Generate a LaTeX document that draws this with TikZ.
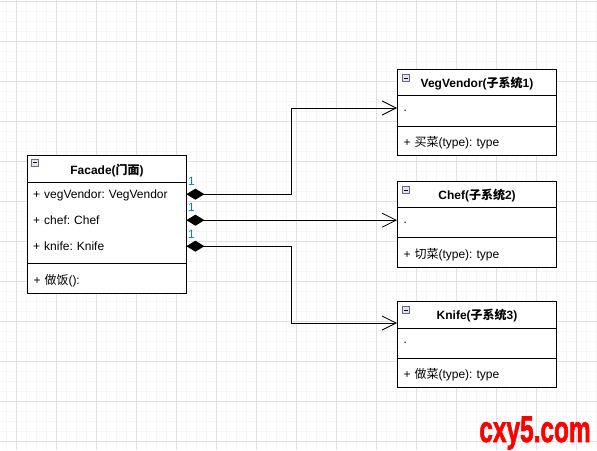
\documentclass[tikz,border=0pt]{standalone}
\usepackage{fontspec}
\setmainfont{Liberation Sans}
\newfontfamily\cjk{Noto Sans CJK SC}
\newfontfamily\wmfont{Liberation Sans Bold}[FakeBold=2]
\usetikzlibrary{arrows.meta}
\definecolor{gminor}{RGB}{246,246,246}
\definecolor{gmajor}{RGB}{225,225,225}
\definecolor{multblue}{RGB}{10,125,195}
\definecolor{wmred}{RGB}{255,0,0}
\frenchspacing
\begin{document}
\frenchspacing
\begin{tikzpicture}[x=1pt,y=-1pt,
  hdr/.style={draw=black, line width=1pt, minimum width=159pt, minimum height=#1, inner sep=0pt, anchor=north west, text height=11pt, text depth=1pt, font=\fontsize{12}{14}\selectfont\bfseries},
  row/.style={text width=147pt, inner xsep=6pt, inner ysep=0pt, minimum height=#1, anchor=north west, align=left, text height=10pt, text depth=2pt, font=\fontsize{12}{14}\selectfont\frenchspacing},
  sec/.style={row=#1, draw=black, line width=1pt},
  msec/.style={sec=#1, text height=11.5pt, text depth=0.5pt},
  bsec/.style={sec=#1, text height=, text depth=},
  mult/.style={text=multblue, font=\fontsize{12}{14}\selectfont, inner sep=0pt},
  conn/.style={line width=1pt, {Diamond[length=18pt,width=11pt]}-{Straight Barb[length=14pt,width=14pt,line width=0.8pt]}},
  minbox/.pic={\draw[line width=0.8pt, draw=gray!80!blue, fill=gray!20] (-3.5,-3.5) rectangle (3.5,3.5); \draw[line width=1pt] (-2,0) -- (2,0);}
]
\useasboundingbox (0,0) rectangle (597,450);
\fill[white] (0,0) rectangle (597,450);
% grid
\foreach \x in {6,16,...,596} \draw[gminor, line width=1pt] (\x,0) -- (\x,450);
\foreach \y in {1,11,...,450} \draw[gminor, line width=1pt] (0,\y) -- (597,\y);
\foreach \x in {16,56,...,596} \draw[gmajor, line width=1pt] (\x,0) -- (\x,450);
\foreach \y in {1,41,...,450} \draw[gmajor, line width=1pt] (0,\y) -- (597,\y);

% Facade
\node[hdr=27pt, fill=white] (fh) at (27,155) {Facade({\cjk 门面})};
\pic at (34.5,162.5) {minbox};
\node[bsec=81pt, fill=white] (fs) at (27,182) {};
\node[row=26pt] (fa1) at (27,181) {+ vegVendor: VegVendor};
\node[row=26pt] (fa2) at (27,207) {+ chef: Chef};
\node[row=26pt] (fa3) at (27,233) {+ knife: Knife};
\node[msec=30pt, fill=white] (fm) at (27,263) {+ {\cjk 做饭}():};

% VegVendor
\node[hdr=26pt, fill=white] (vh) at (397,69) {VegVendor({\cjk 子系统}1)};
\pic at (405.5,78) {minbox};
\node[bsec=30.5pt, fill=white] (vb) at (397,95) {.};
\node[msec=29.5pt, fill=white] (vm) at (397,125.5) {+ {\cjk 买菜}(type): type};

% Chef
\node[hdr=26pt, fill=white] (ch) at (397,181) {Chef({\cjk 子系统}2)};
\pic at (405.5,190) {minbox};
\node[bsec=30pt, fill=white] (cb) at (397,207) {.};
\node[msec=30pt, fill=white] (cm) at (397,237) {+ {\cjk 切菜}(type): type};

% Knife
\node[hdr=26.5pt, fill=white] (kh) at (397,301) {Knife({\cjk 子系统}3)};
\pic at (405.5,310) {minbox};
\node[bsec=30pt, fill=white] (kb) at (397,327.5) {.};
\node[msec=29.5pt, fill=white] (km) at (397,357.5) {+ {\cjk 做菜}(type): type};

% connectors
\coordinate (mx) at (291,0);
\coordinate (vt) at (397,108);
\coordinate (kt) at (397,323);
\draw[conn] (fa1.east) -- (fa1.east -| mx) |- (vt);
\draw[conn] (fa2.east) -- (fa2.east -| cb.west);
\draw[conn] (fa3.east) -- (fa3.east -| mx) |- (kt);

\node[mult] (m1) at (191.5,181.5) {1};
\node[mult] (m2) at (191.5,207.5) {1};
\node[mult] (m3) at (191.5,234) {1};

% watermark
\node[text=wmred, font=\fontsize{37}{37}\wmfont, xscale=0.66, anchor=base, inner sep=0pt] (wm) at (535,442) {cxy5.com};
\end{tikzpicture}
\end{document}
